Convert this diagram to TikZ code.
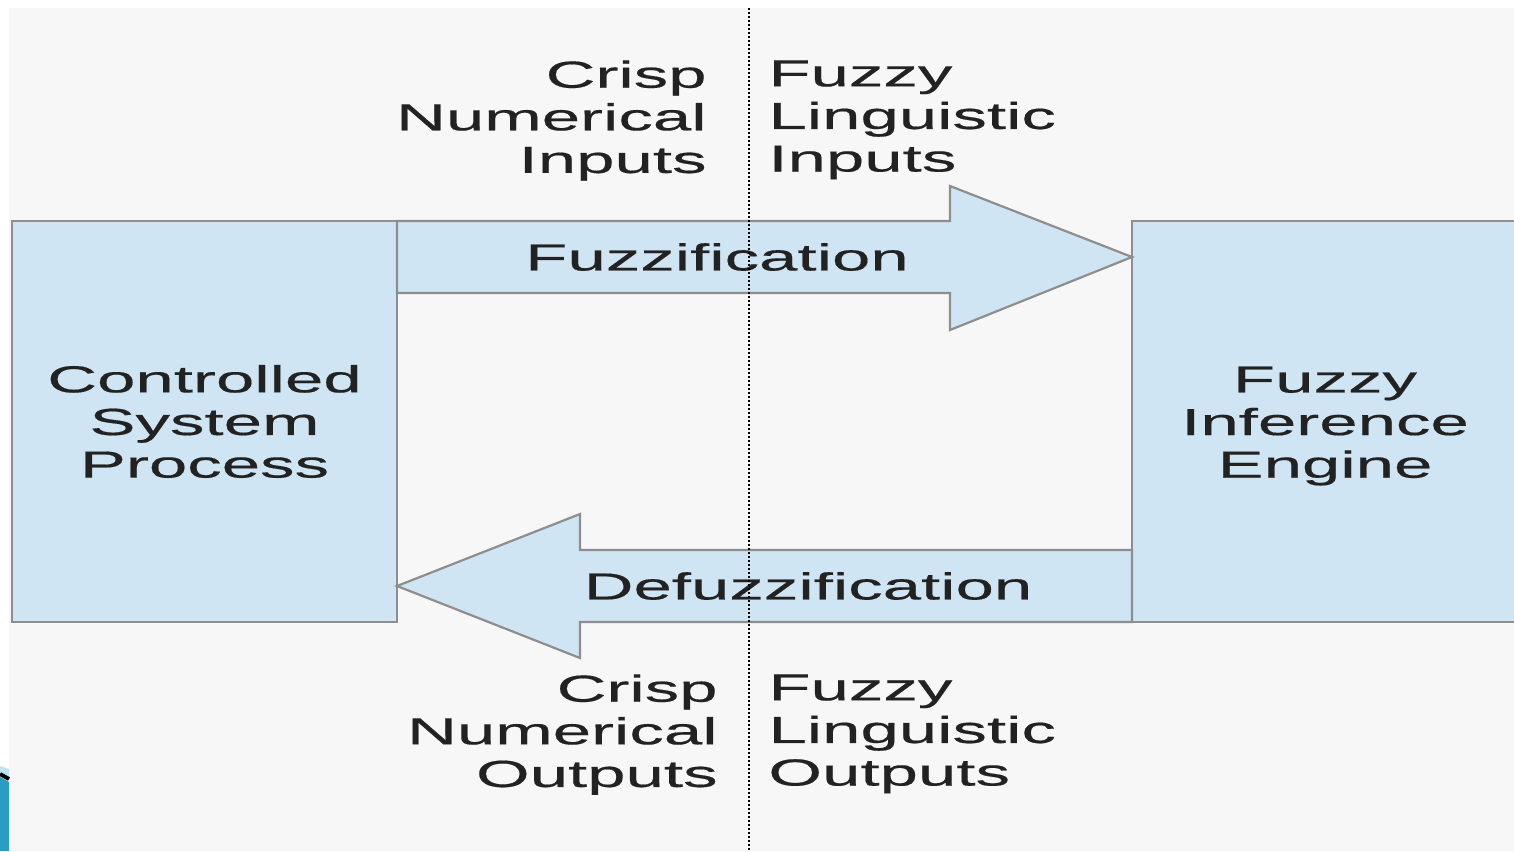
\documentclass[tikz,border=0pt]{standalone}
\usepackage{fontspec}
\setmainfont{Liberation Sans}[FakeStretch=1.83,FakeBold=0.4]
\usetikzlibrary{calc}
\definecolor{bggray}{HTML}{F7F7F7}
\definecolor{boxblue}{HTML}{CFE5F3}
\definecolor{edgegray}{HTML}{8E8E8E}
\definecolor{txt}{HTML}{222222}
\definecolor{teal1}{HTML}{2A9EC0}
\definecolor{lblue}{HTML}{BFE3F0}
\tikzset{
  diagfont/.style={font=\fontsize{18.85pt}{21.3pt}\selectfont, text=txt},
  blockbox/.style={draw=edgegray, line width=1.1pt, fill=boxblue, outer sep=0pt, inner sep=0pt,
    align=center, diagfont, anchor=north west},
  blockarrow/.style={draw=edgegray, line width=1.1pt, fill=boxblue, line join=miter},
  lbl/.style={diagfont, inner sep=0pt},
  divider/.style={line width=1pt, black, dash pattern=on 1pt off 1pt}
}
\begin{document}
\begin{tikzpicture}[x=0.5pt,y=-0.5pt]
\useasboundingbox (0,0) rectangle (1514,851);
\clip (0,0) rectangle (1514,851);
\fill[white] (0,0) rectangle (1514,851);
\fill[bggray] (9,8) rectangle (1514,851);
% corner decoration
\fill[lblue] (0,766) -- (9,769) -- (9,776) -- (0,772) -- cycle;
\fill[teal1] (0,777) -- (9,782) -- (9,851) -- (0,851) -- cycle;
\draw[black, line width=2pt] (0,774) -- (9,779);
% boxes
\node[blockbox, minimum width=192.5pt, minimum height=200.5pt] (csp) at (12,221)
  {Controlled\\System\\Process};
\node[blockbox, minimum width=193pt, minimum height=200.5pt] (fie) at (1132,221)
  {\rule{0pt}{17.5pt}Fuzzy\\Inference\\Engine};
% block arrows
\draw[blockarrow] (csp.north east) -- (950,221) -- (950,186)
  -- ($(fie.north west)+(0,36)$) -- (950,330) -- (950,293) -- ($(csp.north east)+(0,72)$) -- cycle;
\draw[blockarrow] ($(fie.south west)+(0,-72)$) -- (580,550) -- (580,514)
  -- ($(csp.south east)+(0,-36)$) -- (580,658) -- (580,622) -- (fie.south west) -- cycle;
\node[lbl] (fz) at (717,257) {Fuzzification};
\node[lbl] (dfz) at (808,586) {Defuzzification};
% side labels
\node[lbl, align=right, anchor=north east] (cni) at (707,60) {Crisp\\Numerical\\Inputs};
\node[lbl, align=left, anchor=north west] (fli) at (768,60) {Fuzzy\\Linguistic\\Inputs};
\node[lbl, align=right, anchor=north east] (cno) at (718,674) {Crisp\\Numerical\\Outputs};
\node[lbl, align=left, anchor=north west] (flo) at (768,674) {Fuzzy\\Linguistic\\Outputs};
% divider
\coordinate (dtop) at (749,8);
\coordinate (dbot) at (749,851);
\draw[divider] (dtop) -- (dbot);
\end{tikzpicture}
\end{document}
